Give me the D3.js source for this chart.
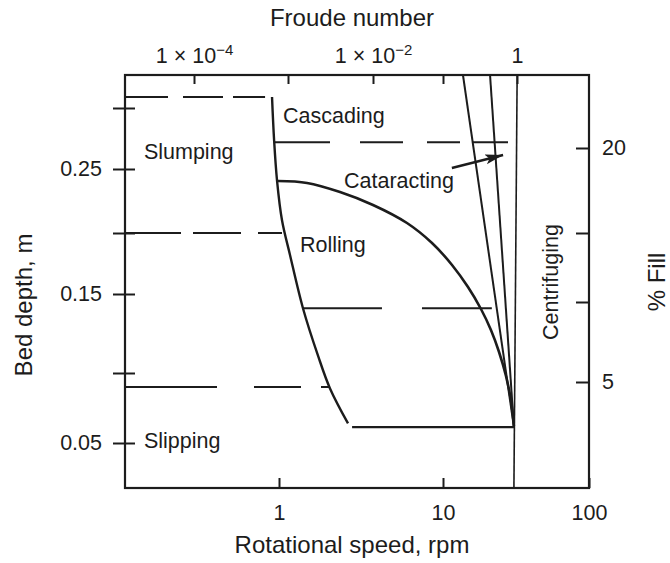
<!DOCTYPE html>
<html>
<head>
<meta charset="utf-8">
<script src="https://cdn.jsdelivr.net/npm/d3@7"></script>
<style>
  body { margin: 0; background: #fff; }
  svg { display: block; font-family: "Liberation Sans", Arial, Helvetica, sans-serif; }
  text { fill: #1c1c1c; }
</style>
</head>
<body>
<div id="chart"></div>
<script>
// ticks
const rpmTicks = [1, 10, 100];
const depthTicks = [0.05, 0.1, 0.15, 0.2, 0.25, 0.3];
const depthLabels = [0.05, 0.15, 0.25];
const fillTicks = [5, 10, 15, 20];
const fillLabels = [5, 20];
const froudeTicks = [1e-4, 1e-3, 1e-2, 1e-1, 1];
const froudeLabels = [1e-4, 1e-2, 1];

// regime boundaries, [rpm, bed depth m]
const slumpRollBoundary = [[0.901, 0.31], [0.929, 0.274], [0.971, 0.241], [1.043, 0.210], [1.167, 0.182],
  [1.40, 0.141], [1.729, 0.111], [2.046, 0.089], [2.635, 0.064]];
const rollCataractBoundary = [[0.985, 0.2406], [1.482, 0.2391], [2.355, 0.232], [3.743, 0.2219], [6.03, 0.2078],
  [8.57, 0.1918], [11.53, 0.1738], [14.83, 0.1557], [18.2, 0.1405], [21.3, 0.1272], [24.2, 0.1133],
  [27.0, 0.0979], [29.2, 0.0807], [30.6, 0.0621]];
const slipBoundary = [[2.79, 0.0614], [30.6, 0.0614]];
const fanLines = [
  [[13.7, 0.33], [30.6, 0.0614]],
  [[21.0, 0.33], [30.6, 0.0614]]
];
const centrifugeLine = [[32.2, 0.33], [30.6, 0.02]];

// dashed levels
const dashDepth = [0.31, 0.272, 0.2, 0.141, 0.09];
const dashFrom = [0.1, 0.942, 0.1, 1.40, 0.1];
const dashTo = [0.812, 27.9, 1.043, 21.6, 2.046];

// regime labels
const regimeNames = ["Cascading", "Slumping", "Cataracting", "Rolling", "Slipping"];
const regimeRpm = [1.058, 0.1327, 2.49, 1.343, 0.1327];
const regimeDepth = [0.2877, 0.2582, 0.2352, 0.1844, 0.0467];
const arrowFrom = [11.5, 0.2508];
const arrowTo = [25.8, 0.2615];

const width = 670, height = 563;
const ink = "#1c1c1c";

const x = d3.scaleLog().domain([0.1, 1, 10, 100]).range([125, 279, 443, 589]);
const y = d3.scaleLinear().domain([0.02, 0.05, 0.1, 0.15, 0.2, 0.25, 0.3, 0.33])
  .range([488, 443, 373, 294, 233, 169, 108, 75]);
const xTop = d3.scaleLog().domain([1e-4, 1e-3, 1e-2, 1e-1, 1]).range([194, 288, 373, 443, 517]);
const yFill = d3.scaleLinear().domain([0, 5, 10, 15, 20, 25]).range([488, 382, 302, 233, 148, 75]);

const svg = d3.select("#chart").append("svg").attr("width", width).attr("height", height);
svg.append("rect").attr("width", width).attr("height", height).attr("fill", "#fff");

svg.append("defs").append("marker")
  .attr("id", "arrow")
  .attr("markerUnits", "userSpaceOnUse")
  .attr("markerWidth", 20).attr("markerHeight", 12)
  .attr("refX", 18).attr("refY", 5)
  .attr("orient", "auto")
  .append("path").attr("d", "M0,0 L18,5 L0,10 L4,5 z").attr("fill", ink);

const line = d3.line().x(d => x(d[0])).y(d => y(d[1]));
const smooth = d3.line().x(d => x(d[0])).y(d => y(d[1])).curve(d3.curveCatmullRom.alpha(0.5));

// dashed horizontals
const dashPatterns = ["43,15,40,10", "55,30,43,24,33,13,35", "56,12,48,17", "79,40", "92,37,47,20"];
svg.append("g").selectAll("line")
  .data(dashDepth)
  .enter().append("line")
    .attr("x1", (d, i) => x(dashFrom[i]))
    .attr("x2", (d, i) => x(dashTo[i]))
    .attr("y1", d => y(d)).attr("y2", d => y(d))
    .attr("stroke", ink).attr("stroke-width", 2)
    .attr("stroke-dasharray", (d, i) => dashPatterns[i]);

// solid boundaries
const g = svg.append("g").attr("fill", "none").attr("stroke", ink);
g.append("path").attr("d", smooth(slumpRollBoundary)).attr("stroke-width", 2.4);
g.append("path").attr("d", smooth(rollCataractBoundary)).attr("stroke-width", 2.6);
g.append("path").attr("d", line(slipBoundary)).attr("stroke-width", 2.2);
fanLines.forEach(f => g.append("path").attr("d", line(f)).attr("stroke-width", 2));
g.append("path").attr("d", line(centrifugeLine)).attr("stroke-width", 1.6);

// arrow
svg.append("line")
  .attr("x1", x(arrowFrom[0])).attr("y1", y(arrowFrom[1]))
  .attr("x2", x(arrowTo[0])).attr("y2", y(arrowTo[1]))
  .attr("stroke", ink).attr("stroke-width", 2.4)
  .attr("marker-end", "url(#arrow)");

// frame
svg.append("rect")
  .attr("x", x.range()[0]).attr("y", y.range()[y.range().length - 1])
  .attr("width", x.range()[3] - x.range()[0])
  .attr("height", y.range()[0] - y.range()[y.range().length - 1])
  .attr("fill", "none").attr("stroke", ink).attr("stroke-width", 2.2);

// axes
const bottomAxis = svg.append("g")
  .attr("transform", "translate(0,488)")
  .call(d3.axisBottom(x).tickValues(rpmTicks).tickSize(-10).tickFormat(d3.format("d")));
bottomAxis.selectAll("text").attr("y", 32).attr("dy", 0);

const leftAxis = svg.append("g")
  .attr("transform", "translate(125,0)")
  .call(d3.axisLeft(y).tickValues(depthTicks).tickSize(12).tickPadding(11)
    .tickFormat(d => depthLabels.includes(d) ? d : ""));
leftAxis.selectAll(".tick line").attr("x1", 10);

const rightAxis = svg.append("g")
  .attr("transform", "translate(589,0)")
  .call(d3.axisRight(yFill).tickValues(fillTicks).tickSize(-13)
    .tickFormat(d => fillLabels.includes(d) ? d : ""));
rightAxis.selectAll("text").attr("x", 13);

const topAxis = svg.append("g")
  .attr("transform", "translate(0,75)")
  .call(d3.axisTop(xTop).tickValues(froudeTicks).tickSize(-9).tickFormat(""));
topAxis.selectAll(".tick")
  .filter(d => froudeLabels.includes(d))
  .append("text")
    .attr("y", -12)
    .attr("text-anchor", "middle")
    .each(function(d) {
      const t = d3.select(this);
      if (d === 1) { t.text("1"); return; }
      t.append("tspan").text("1 × 10");
      t.append("tspan").attr("dy", -8).attr("font-size", 15).text("−" + Math.round(-Math.log10(d)));
    });

[bottomAxis, leftAxis, rightAxis, topAxis].forEach(a => {
  a.select(".domain").remove();
  a.selectAll("line").attr("stroke", ink).attr("stroke-width", 2);
  a.selectAll("text").attr("font-size", 21.5).attr("fill", ink)
    .attr("font-family", "Liberation Sans, Arial, sans-serif");
});
topAxis.selectAll("tspan[font-size]").attr("font-size", 15);

// regime labels
svg.append("g").selectAll("text")
  .data(regimeNames)
  .enter().append("text")
    .attr("x", (d, i) => x(regimeRpm[i]))
    .attr("y", (d, i) => y(regimeDepth[i]))
    .attr("font-size", 21.5)
    .text(d => d);

svg.append("text")
  .attr("transform", `translate(${x(61.3)},${y(0.1598)}) rotate(-90)`)
  .attr("text-anchor", "middle").attr("font-size", 21.5)
  .text("Centrifuging");

// titles
svg.append("text").attr("x", 352).attr("y", 26).attr("text-anchor", "middle")
  .attr("font-size", 24).text("Froude number");
svg.append("text").attr("x", 352).attr("y", 553).attr("text-anchor", "middle")
  .attr("font-size", 24).text("Rotational speed, rpm");
svg.append("text").attr("transform", "translate(32,305) rotate(-90)").attr("text-anchor", "middle")
  .attr("font-size", 24).text("Bed depth, m");
svg.append("text").attr("transform", "translate(665,282) rotate(-90)").attr("text-anchor", "middle")
  .attr("font-size", 24).text("% Fill");
</script>
</body>
</html>
